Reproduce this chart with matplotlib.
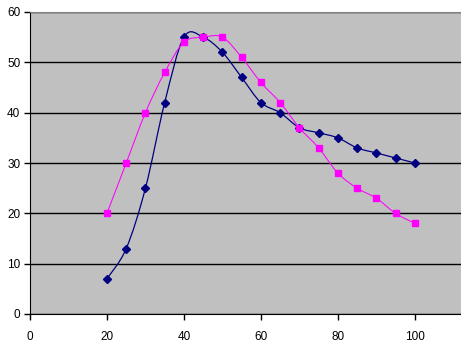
import matplotlib
matplotlib.use("Agg")
import matplotlib.pyplot as plt
from matplotlib.path import Path
from matplotlib.patches import PathPatch

x_vals = [20, 25, 30, 35, 40, 45, 50, 55, 60, 65, 70, 75, 80, 85, 90, 95, 100]
navy_vals = [7, 13, 25, 42, 55, 55, 52, 47, 42, 40, 37, 36, 35, 33, 32, 31, 30]
pink_vals = [20, 30, 40, 48, 54, 55, 55, 51, 46, 42, 37, 33, 28, 25, 23, 20, 18]
x_ticks = [0, 20, 40, 60, 80, 100]
y_ticks = [0, 10, 20, 30, 40, 50, 60]


def smooth_path(xs, ys):
    # Excel-style smoothed line: cubic bezier segments, catmull-rom tangents
    verts = [(xs[0], ys[0])]
    codes = [Path.MOVETO]
    n = len(xs)
    for i in range(n - 1):
        x0, y0 = (xs[i - 1], ys[i - 1]) if i > 0 else (xs[i], ys[i])
        x3, y3 = (xs[i + 2], ys[i + 2]) if i + 2 < n else (xs[i + 1], ys[i + 1])
        c1 = (xs[i] + (xs[i + 1] - x0) / 6, ys[i] + (ys[i + 1] - y0) / 6)
        c2 = (xs[i + 1] - (x3 - xs[i]) / 6, ys[i + 1] - (y3 - ys[i]) / 6)
        verts += [c1, c2, (xs[i + 1], ys[i + 1])]
        codes += [Path.CURVE4] * 3
    return Path(verts, codes)


plt.rcParams['font.family'] = ['Liberation Sans', 'DejaVu Sans']
fig = plt.figure(figsize=(4.61, 3.44), dpi=100)
ax = fig.add_axes([30 / 461, 30 / 344, 431 / 461, 302 / 344])
ax.set_facecolor('#c0c0c0')

ax.set_xlim(0, 112)
ax.set_ylim(0, 60)
ax.set_xticks(x_ticks)
ax.set_yticks(y_ticks)
ax.yaxis.grid(True, color='black', linewidth=1)
ax.set_axisbelow(True)

series = [(navy_vals, '#000080', 'D', 4.2, 0.9, 3),
          (pink_vals, '#ff00ff', 's', 4.8, 0.75, 5)]
for ys, col, mk, ms, lw, z in series:
    ax.add_patch(PathPatch(smooth_path(x_vals, ys), facecolor='none',
                           edgecolor=col, linewidth=lw, zorder=z))
    ax.plot(x_vals, ys, linestyle='none', marker=mk, markersize=ms,
            color=col, zorder=z + 0.5, clip_on=False)

ax.spines['right'].set_visible(False)
ax.spines['top'].set_color('#808080')
ax.spines['left'].set_color('black')
ax.spines['bottom'].set_color('black')
ax.tick_params(direction='out', length=4, width=1, labelsize=8.5, colors='black', pad=3)
ax.tick_params(axis='x', pad=8)

fig.savefig('out.png', dpi=100)
